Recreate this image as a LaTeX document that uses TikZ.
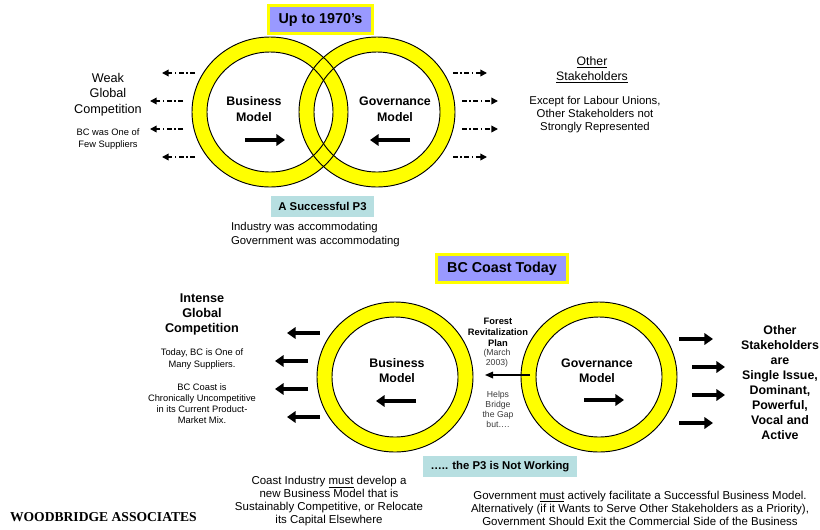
\documentclass[tikz,border=0pt]{standalone}
\usepackage{fontspec}
\setmainfont{Liberation Sans}
\newfontfamily\firmfont{Liberation Serif}
\usetikzlibrary{arrows.meta}

\definecolor{ringyellow}{HTML}{FFFF00}
\definecolor{titlefill}{HTML}{9999FF}
\definecolor{notefill}{HTML}{B7DFE1}
\definecolor{softgray}{HTML}{3A3A3A}

\newcommand{\fs}[2]{\fontsize{#1}{#2}\selectfont}

\begin{document}
\begin{tikzpicture}[x=0.75pt,y=-0.75pt,
  every node/.style={inner sep=0pt,outer sep=0pt,align=center},
  titlebox/.style={draw=ringyellow,fill=titlefill,line width=2.4pt,
    font=\fs{10.75}{13}\bfseries,minimum height=20.85pt},
  notebox/.style={fill=notefill,font=\fs{8.5}{10}\bfseries,minimum height=15.75pt},
  modeltext/.style={font=\fs{9.3}{11.6}\bfseries},
  ringfill/.style={fill=ringyellow,even odd rule},
  ringline/.style={draw=black,line width=0.7pt},
  pusharrow/.style={line width=2.6pt,-{Triangle[length=6.4pt,width=8.5pt]}},
  looseline/.style={line width=1.1pt,dash pattern=on 3.5pt off 2pt on 1.1pt off 2pt,
    -{Triangle[length=5pt,width=5pt]}},
  bridgeline/.style={line width=0.9pt,-{Triangle[length=6pt,width=5pt]}},
]
\useasboundingbox (0,0) rectangle (820,529);

% ---------- ring centres ----------
\coordinate (bizA) at (270,112);
\coordinate (govA) at (377,112);
\coordinate (bizB) at (395,377);
\coordinate (govB) at (599,377);

% yellow bands first, then all outlines so the upper pair interlaces
\foreach \c in {bizA,govA,bizB,govB}
  \fill[ringfill] (\c) ellipse [x radius=78,y radius=75]
                  (\c) ellipse [x radius=63,y radius=60];
\foreach \c in {bizA,govA,bizB,govB}
  \draw[ringline] (\c) ellipse [x radius=78,y radius=75]
                  (\c) ellipse [x radius=63,y radius=60];

% ---------- upper panel ----------
\node[titlebox,minimum width=77.85pt] (eraA) at (320.5,19.5) {Up to 1970's};

\node[font=\fs{9.5}{11.6}] (weak) at (108,94.5) {Weak\\Global\\Competition};
\node[font=\fs{7}{9}] (fewsup) at (108,139) {BC was One of\\Few Suppliers};

\node[font=\fs{9.2}{11.25}] (otherA) at (592,69.5) {\underline{Other}\\\underline{Stakeholders}};
\node[font=\fs{8.5}{9.75}] (except) at (595,115)
  {Except for Labour Unions,\\Other Stakeholders not\\Strongly Represented};

\node[modeltext] (bmA) at (254,109) {Business\\Model};
\node[modeltext] (gmA) at (395,109) {Governance\\Model};

\coordinate (bmAtail) at (245,140); \coordinate (bmAtip) at (285,140);
\coordinate (gmAtail) at (410,140); \coordinate (gmAtip) at (370,140);
\draw[pusharrow] (bmAtail) -- (bmAtip);
\draw[pusharrow] (gmAtail) -- (gmAtip);

\foreach \i/\tx/\hx/\yy in {1/195/162/73,2/183/150/101,3/183/150/129,4/195/162/157}{
  \coordinate (wlt\i) at (\tx,\yy); \coordinate (wlh\i) at (\hx,\yy);
  \draw[looseline] (wlt\i) -- (wlh\i);
}
\foreach \i/\tx/\hx/\yy in {1/453/487/73,2/462/498/101,3/462/498/129,4/453/487/157}{
  \coordinate (wrt\i) at (\tx,\yy); \coordinate (wrh\i) at (\hx,\yy);
  \draw[looseline] (wrt\i) -- (wrh\i);
}

\node[notebox,minimum width=77.25pt] (p3good) at (322.5,206.5) {A Successful P3};
\node[font=\fs{8.5}{10.5},anchor=west,align=left] (accom) at (231,235)
  {Industry was accommodating\\Government was accommodating};

% ---------- lower panel ----------
\node[titlebox,minimum width=98.1pt] (eraB) at (502,268.5) {BC Coast Today};

\node[font=\fs{9.5}{11.25}\bfseries] (intense) at (202,314) {Intense\\Global\\Competition};
\node[font=\fs{7}{9}] (many) at (202,359) {Today, BC is One of\\Many Suppliers.};
\node[font=\fs{7}{8.25}] (uncomp) at (202,403.5)
  {BC Coast is\\Chronically Uncompetitive\\in its Current Product-\\Market Mix.};

\node[modeltext] (bmB) at (397,370.5) {Business\\Model};
\node[modeltext] (gmB) at (597,370.5) {Governance\\Model};

\coordinate (bmBtail) at (416,401); \coordinate (bmBtip) at (376,401);
\coordinate (gmBtail) at (584,400); \coordinate (gmBtip) at (624,400);
\draw[pusharrow] (bmBtail) -- (bmBtip);
\draw[pusharrow] (gmBtail) -- (gmBtip);

\foreach \i/\tx/\hx/\yy in {1/320/287/333,2/308/275/361,3/308/275/389,4/320/287/417}{
  \coordinate (slt\i) at (\tx,\yy); \coordinate (slh\i) at (\hx,\yy);
  \draw[pusharrow] (slt\i) -- (slh\i);
}
\foreach \i/\tx/\hx/\yy in {1/679/713/339,2/692/725/367,3/692/725/395,4/679/713/423}{
  \coordinate (srt\i) at (\tx,\yy); \coordinate (srh\i) at (\hx,\yy);
  \draw[pusharrow] (srt\i) -- (srh\i);
}

\node[font=\fs{7}{8.25}\bfseries] (frp) at (498,332) {Forest\\Revitalization\\Plan};
\node[font=\fs{6.5}{7.5},text=softgray] (march) at (497,358) {(March\\2003)};
\node[font=\fs{6.5}{7.5},text=softgray] (helps) at (498,409) {Helps\\Bridge\\the Gap\\but….};
\coordinate (bridgefrom) at (530,375); \coordinate (bridgeto) at (485,375);
\draw[bridgeline] (bridgefrom) -- (bridgeto);

\node[font=\fs{9.3}{11.25}\bfseries] (stake) at (780,382.5)
  {Other\\Stakeholders\\are\\Single Issue,\\Dominant,\\Powerful,\\Vocal and\\Active};

\node[notebox,minimum width=115.5pt] (p3bad) at (500,466.5) {….. the P3 is Not Working};

\node[font=\fs{8.6}{9.75}] (coast) at (329,501.5)
  {Coast Industry \underline{must} develop a\\new Business Model that is\\Sustainably Competitive, or Relocate\\its Capital Elsewhere};
\node[font=\fs{8.6}{9.75}] (govt) at (640,508.5)
  {Government \underline{must} actively facilitate a Successful Business Model.\\Alternatively (if it Wants to Serve Other Stakeholders as a Priority),\\Government Should Exit the Commercial Side of the Business};

\node[font=\firmfont\fs{10.2}{11}\bfseries,anchor=west] (firm) at (10,517) {WOODBRIDGE ASSOCIATES};
\end{tikzpicture}
\end{document}
